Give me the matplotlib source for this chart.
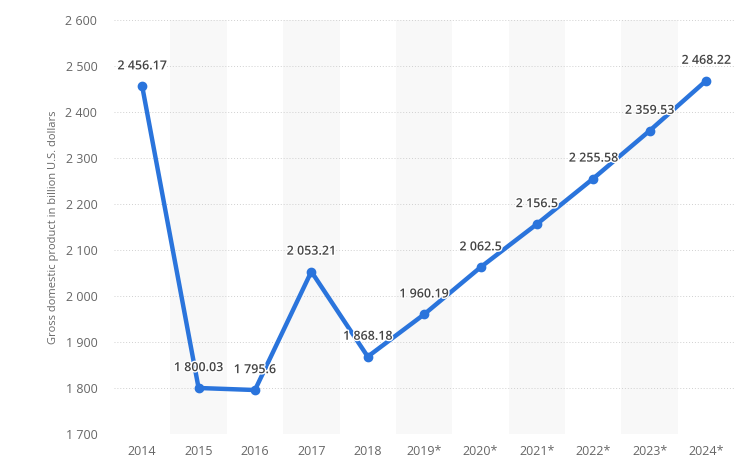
import matplotlib
matplotlib.use("Agg")
import matplotlib.pyplot as plt
import matplotlib.patheffects as pe

years = ["2014", "2015", "2016", "2017", "2018", "2019*", "2020*", "2021*", "2022*", "2023*", "2024*"]
gdp = [2456.17, 1800.03, 1795.6, 2053.21, 1868.18, 1960.19, 2062.5, 2156.5, 2255.58, 2359.53, 2468.22]
labels = ["2 456.17", "1 800.03", "1 795.6", "2 053.21", "1 868.18", "1 960.19", "2 062.5", "2 156.5", "2 255.58", "2 359.53", "2 468.22"]
yticks = [1700, 1800, 1900, 2000, 2100, 2200, 2300, 2400, 2500, 2600]

plt.rcParams['font.family'] = ['Open Sans', 'DejaVu Sans']

fig = plt.figure(figsize=(7.5, 4.65), dpi=100)
ax = fig.add_axes([0.152, 0.0667, 0.827, 0.890])

x = list(range(len(years)))
for i in x:
    if i % 2 == 1:
        ax.axvspan(i - 0.5, i + 0.5, color="#f8f8f8", zorder=0, lw=0)

for t in yticks:
    ax.axhline(t, color="#d0d0d0", lw=0.7, ls=(0, (1, 2)), zorder=1)

ax.plot(x, gdp, color="#2a74dc", lw=3.2, marker="o", ms=6, zorder=3, solid_capstyle="round")

for xi, yi, lab in zip(x, gdp, labels):
    ax.annotate(lab, (xi, yi), xytext=(0, 10), textcoords="offset points",
                ha="center", va="bottom", fontsize=9, fontweight="semibold", color="#444444",
                zorder=4, path_effects=[pe.withStroke(linewidth=2, foreground="white")])

ax.set_xlim(-0.5, len(years) - 0.5)
ax.set_ylim(1700, 2600)
ax.set_xticks(x)
ax.set_xticklabels(years)
ax.set_yticks(yticks)
ax.set_yticklabels([f"{t // 1000} {t % 1000:03d}" for t in yticks])
ax.tick_params(axis="both", length=0, labelsize=9, colors="#666666")
ax.tick_params(axis="y", pad=12)
ax.tick_params(axis="x", pad=8)
for s in ax.spines.values():
    s.set_visible(False)
ax.set_ylabel("Gross domestic product in billion U.S. dollars", fontsize=8, color="#666666", labelpad=5)

fig.savefig("out.png", dpi=100)
